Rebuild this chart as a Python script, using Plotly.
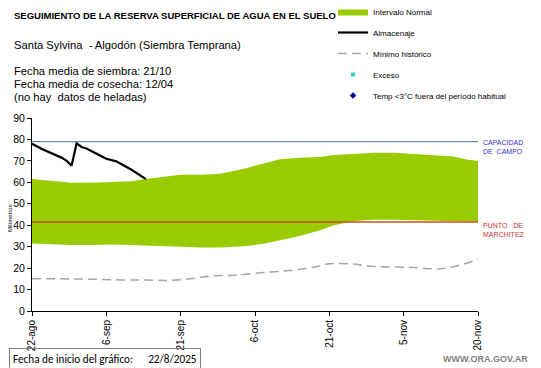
import plotly.graph_objects as go

# ---------------- data ----------------
band_dates = ["2025-08-22", "2025-08-26", "2025-08-30", "2025-09-03", "2025-09-07", "2025-09-11",
              "2025-09-14", "2025-09-18", "2025-09-21", "2025-09-25", "2025-09-29", "2025-10-04",
              "2025-10-08", "2025-10-11", "2025-10-15", "2025-10-19", "2025-10-22", "2025-10-26",
              "2025-10-30", "2025-11-03", "2025-11-07", "2025-11-11", "2025-11-15", "2025-11-18",
              "2025-11-20"]
band_upper = [61.5, 60.5, 59.8, 59.8, 60.3, 60.5, 61.5, 62.5, 63.5, 63.5, 64.0, 66.5,
              69.0, 70.8, 71.5, 71.8, 72.8, 73.3, 73.8, 73.8, 73.3, 72.8, 72.0, 70.5, 70.0]
band_lower = [31.5, 31.0, 30.8, 30.8, 31.0, 30.8, 30.5, 30.2, 29.8, 29.6, 29.6, 30.2,
              31.5, 33.0, 35.0, 37.5, 40.0, 42.0, 42.5, 42.5, 42.3, 42.2, 42.0, 41.7, 41.6]

alm_dates = ["2025-08-22", "2025-08-24", "2025-08-26", "2025-08-28", "2025-08-29", "2025-08-30",
             "2025-08-31", "2025-09-01", "2025-09-02", "2025-09-04", "2025-09-06", "2025-09-08",
             "2025-09-09", "2025-09-11", "2025-09-14"]
alm_values = [78.0, 75.5, 73.5, 71.5, 70.0, 67.8, 78.2, 76.5, 75.8, 73.5, 71.0, 69.8,
              68.5, 66.0, 61.5]

min_dates = ["2025-08-22", "2025-08-28", "2025-09-03", "2025-09-09", "2025-09-14", "2025-09-19",
             "2025-09-23", "2025-09-27", "2025-10-02", "2025-10-07", "2025-10-13", "2025-10-18",
             "2025-10-21", "2025-10-25", "2025-10-30", "2025-11-06", "2025-11-13", "2025-11-20"]
min_values = [15.0, 15.0, 14.8, 14.5, 14.4, 14.3, 15.0, 16.3, 16.7, 17.8, 18.9, 20.5,
              22.0, 22.0, 20.8, 20.4, 19.8, 24.0]

capacidad_campo = 79.0
punto_marchitez = 41.5
x_start, x_end = "2025-08-22", "2025-11-20"

tick_dates = ["2025-08-22", "2025-09-06", "2025-09-21", "2025-10-06", "2025-10-21", "2025-11-05", "2025-11-20"]
tick_labels = ["22-ago", "6-sep", "21-sep", "6-oct", "21-oct", "5-nov", "20-nov"]
y_ticks = [0, 10, 20, 30, 40, 50, 60, 70, 80, 90]

GREEN = "#99cc00"
FONT = "Liberation Sans, Arial, sans-serif"

# plot area in page pixels (page has an 8px body margin)
PL, PR, PT, PB = 32, 478, 118, 311
PW, PH = PR - PL, PB - PT


def px(x):
    return (x - PL) / PW


def py(y):
    return (PB - y) / PH


fig = go.Figure()

# normal interval band
fig.add_trace(go.Scatter(x=band_dates, y=band_lower, mode="lines", line=dict(width=0, color=GREEN),
                         showlegend=False, hoverinfo="skip", legendgroup="g0"))
fig.add_trace(go.Scatter(x=band_dates, y=band_upper, mode="lines", line=dict(width=0, color=GREEN),
                         fill="tonexty", fillcolor=GREEN, name="Intervalo Normal", legendgroup="g1"))

# reference lines
fig.add_trace(go.Scatter(x=[x_start, x_end], y=[capacidad_campo, capacidad_campo], mode="lines",
                         line=dict(color="#7186b8", width=1.2), showlegend=False, hoverinfo="skip"))
fig.add_trace(go.Scatter(x=[x_start, x_end], y=[punto_marchitez, punto_marchitez], mode="lines",
                         line=dict(color="#c8501e", width=1.5), showlegend=False, hoverinfo="skip"))

fig.add_trace(go.Scatter(x=alm_dates, y=alm_values, mode="lines", line=dict(color="black", width=2.2),
                         name="Almacenaje", legendgroup="g2"))
fig.add_trace(go.Scatter(x=min_dates, y=min_values, mode="lines",
                         line=dict(color="#a6a6a6", width=1.5, dash="9px,5px", shape="spline"),
                         name="Mínimo histórico", legendgroup="g3"))
fig.add_trace(go.Scatter(x=[None], y=[None], mode="markers",
                         marker=dict(color="#33cccc", size=4, symbol="square"),
                         name="Exceso", legendgroup="g4"))
fig.add_trace(go.Scatter(x=[None], y=[None], mode="markers",
                         marker=dict(color="#000099", size=5, symbol="diamond"),
                         name="Temp <3°C fuera del período habitual", legendgroup="g5"))


def txt(x, y, text, size, color="black", anchor="left", **kw):
    d = dict(xref="paper", yref="paper", x=px(x), y=py(y), xanchor=anchor, yanchor="middle",
             text=text, showarrow=False, align="left",
             font=dict(size=size, color=color, family=kw.pop("family", FONT)))
    d.update(kw)
    return d


ann = [
    txt(12, 15, "<b>SEGUIMIENTO DE LA RESERVA SUPERFICIAL DE AGUA EN EL SUELO</b>", 9.5),
    txt(12, 45, "Santa Sylvina  - Algodón (Siembra Temprana)", 11.2),
    txt(12, 71, "Fecha media de siembra: 21/10", 11.2),
    txt(12, 84, "Fecha media de cosecha: 12/04", 11.2),
    txt(12, 97, "(no hay  datos de heladas)", 11.2),
    txt(481, 147, "CAPACIDAD<br>DE  CAMPO", 7, "#3333bb"),
    txt(481, 230, "PUNTO   DE<br>MARCHITEZ", 7, "#cc3333"),
    txt(10, 218, "Milímetros", 6, anchor="center", textangle=-90),
    txt(8.5, 359, "Fecha de inicio del gráfico:      22/8/2025", 11.2,
        family="Carlito, Open Sans, sans-serif",
        bordercolor="#7f7f7f", borderwidth=1, borderpad=3),
    txt(530, 359, "<b>WWW.ORA.GOV.AR</b>", 9, "#7f7f7f", anchor="right"),
]

fig.update_layout(
    width=541 - 8, height=368 - 8,
    margin=dict(l=PL - 8, r=541 - PR, t=PT - 8, b=368 - PB, autoexpand=False),
    paper_bgcolor="white", plot_bgcolor="white",
    font=dict(family=FONT, size=9, color="black"),
    annotations=ann,
    legend=dict(x=px(333), y=py(-3), xanchor="left", yanchor="top",
                font=dict(size=8, family=FONT, color="black"), tracegroupgap=2,
                bgcolor="rgba(0,0,0,0)", itemwidth=30),
    xaxis=dict(type="date", range=[x_start, x_end], tickvals=tick_dates, ticktext=tick_labels,
               tickangle=-90, showgrid=False, zeroline=False, showline=True, linecolor="black",
               linewidth=1, ticks="outside", ticklen=4, tickcolor="black", tickfont=dict(size=10)),
    yaxis=dict(range=[0, 90], tickvals=y_ticks, showgrid=False, zeroline=False, showline=True,
               linecolor="black", linewidth=1, ticks="outside", ticklen=4, tickcolor="black",
               tickfont=dict(size=10.5)),
    showlegend=True,
)

fig.write_html("out.html")
